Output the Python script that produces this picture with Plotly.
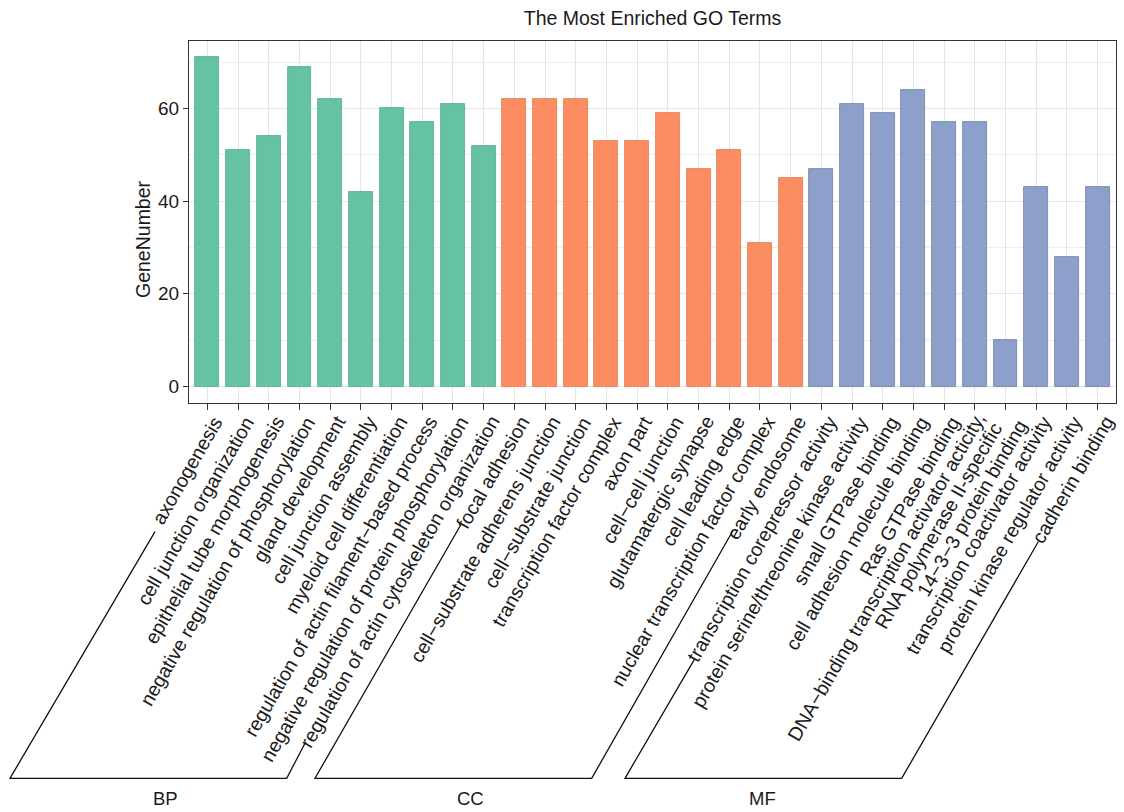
import math
import plotly.graph_objects as go

# GO categories and their terms
bp_terms = [
    "axonogenesis", "cell junction organization", "epithelial tube morphogenesis",
    "negative regulation of phosphorylation", "gland development", "cell junction assembly",
    "myeloid cell differentiation", "regulation of actin filament−based process",
    "negative regulation of protein phosphorylation", "regulation of actin cytoskeleton organization",
]
bp_counts = [71, 51, 54, 69, 62, 42, 60, 57, 61, 52]

cc_terms = [
    "focal adhesion", "cell−substrate adherens junction", "cell−substrate junction",
    "transcription factor complex", "axon part", "cell−cell junction", "glutamatergic synapse",
    "cell leading edge", "nuclear transcription factor complex", "early endosome",
]
cc_counts = [62, 62, 62, 53, 53, 59, 47, 51, 31, 45]

mf_terms = [
    "transcription corepressor activity", "protein serine/threonine kinase activity",
    "small GTPase binding", "cell adhesion molecule binding", "Ras GTPase binding",
    "DNA−binding transcription activator acticity,<br>RNA polymerase II-specific",
    "14−3−3 protein binding", "transcription coactivator activity",
    "protein kinase regulator activity", "cadherin binding",
]
mf_counts = [47, 61, 59, 64, 57, 57, 10, 43, 28, 43]

groups = ["BP", "CC", "MF"]
fill_colors = ["#66C2A5", "#FC8D62", "#8DA0CB"]
edge_colors = ["#55A98E", "#E07A52", "#6F7FA6"]

W, H = 1124, 812
L, R, T, B = 189, 1116, 41, 403  # plot area in pixels
FONT = "Arial, Liberation Sans, sans-serif"
TXT = "#1a1a1a"
GRID = "#E6E6E6"
LABEL_SIZE = 19.5
ANGLE = 60
LINE_GAP = 19      # spacing between wrapped label lines
WRAP_START = -6    # first wrapped line sits slightly above the usual label line
LABEL_NUDGE = {"14−3−3 protein binding": 7}  # extra perpendicular offset, px


def px(x, y):
    return (x - L) / (R - L), (B - y) / (B - T)


all_terms = bp_terms + cc_terms + mf_terms
fig = go.Figure()
for name, terms, counts, fc, ec in zip(groups, [bp_terms, cc_terms, mf_terms],
                                       [bp_counts, cc_counts, mf_counts],
                                       fill_colors, edge_colors):
    idx = [all_terms.index(t) for t in terms]
    fig.add_trace(go.Bar(
        x=idx, y=counts, name=name, width=0.78,
        marker=dict(color=fc, line=dict(color=ec, width=0.8)),
        showlegend=False,
    ))

annotations = []

# rotated category labels: the top-right corner of each label sits under its tick
sin_a, cos_a = math.sin(math.radians(ANGLE)), math.cos(math.radians(ANGLE))
base_shift = sin_a * LABEL_SIZE * 1.25
_, label_y = px(0, 411)
for i, term in enumerate(all_terms):
    lines = term.split("<br>")
    if len(lines) == 1:
        offsets = [LABEL_NUDGE.get(term, 0)]
    else:
        offsets = [WRAP_START + k * LINE_GAP for k in range(len(lines))]
    for line, d in zip(lines, offsets):
        annotations.append(dict(
            text=line, x=i, xref="x", y=label_y, yref="paper",
            showarrow=False, textangle=-ANGLE, xanchor="right", yanchor="top",
            xshift=base_shift + sin_a * d, yshift=-cos_a * d, borderpad=0,
            font=dict(family=FONT, size=LABEL_SIZE, color=TXT),
        ))

# group brackets under the rotated labels
brackets = [
    [(155, 531.7), (10, 778.3), (286.7, 778.3), (305, 743.3)],
    [(461.7, 523.3), (315, 778.3), (591.7, 778.3), (733.3, 530)],
    [(695, 658.3), (625, 778.3), (901.7, 778.3), (1038.3, 541.7)],
]
shapes = []
for pts in brackets:
    p = [px(*q) for q in pts]
    path = "M " + " L ".join(f"{a:.5f},{b:.5f}" for a, b in p)
    shapes.append(dict(type="path", path=path, xref="paper", yref="paper",
                       line=dict(color="#111111", width=1.3)))

for name, gx in zip(groups, [165.7, 470, 762.3]):
    ax, ay = px(gx, 798.5)
    annotations.append(dict(text=name, x=ax, y=ay, xref="paper", yref="paper",
                            showarrow=False, xanchor="center", yanchor="middle",
                            font=dict(family=FONT, size=18.5, color=TXT)))
ax, ay = px(143, 239)
annotations.append(dict(text="GeneNumber", x=ax, y=ay, xref="paper", yref="paper",
                        showarrow=False, textangle=-90, xanchor="center", yanchor="middle",
                        font=dict(family=FONT, size=19.5, color=TXT)))

fig.update_layout(
    width=W, height=H,
    margin=dict(l=L, r=W - R, t=T, b=H - B),
    paper_bgcolor="white", plot_bgcolor="white",
    title=dict(text="The Most Enriched GO Terms", x=0.5, xref="paper",
               y=1 - 18 / H, yref="container", xanchor="center", yanchor="middle",
               font=dict(family=FONT, size=19.5, color=TXT)),
    shapes=shapes, annotations=annotations,
    barmode="overlay", bargap=0,
)
fig.update_xaxes(
    range=[-0.6, len(all_terms) - 0.4],
    tickmode="array", tickvals=list(range(len(all_terms))), showticklabels=False,
    ticks="outside", ticklen=6, tickcolor="#333333", tickwidth=1,
    showgrid=True, gridcolor=GRID, gridwidth=1,
    showline=True, linecolor="#333333", linewidth=1.2, mirror=True,
    zeroline=False, automargin=False,
)
fig.update_yaxes(
    range=[-3.55, 74.55], tickvals=[0, 20, 40, 60],
    ticks="outside", ticklen=5, tickcolor="#333333", tickwidth=1,
    tickfont=dict(family=FONT, size=19, color=TXT),
    showgrid=True, gridcolor=GRID, gridwidth=1,
    minor=dict(tickvals=[10, 30, 50, 70], showgrid=True, gridcolor="#EEEEEE", gridwidth=0.8),
    showline=True, linecolor="#333333", linewidth=1.2, mirror=True,
    zeroline=False, automargin=False,
)

fig.write_html("out.html")
